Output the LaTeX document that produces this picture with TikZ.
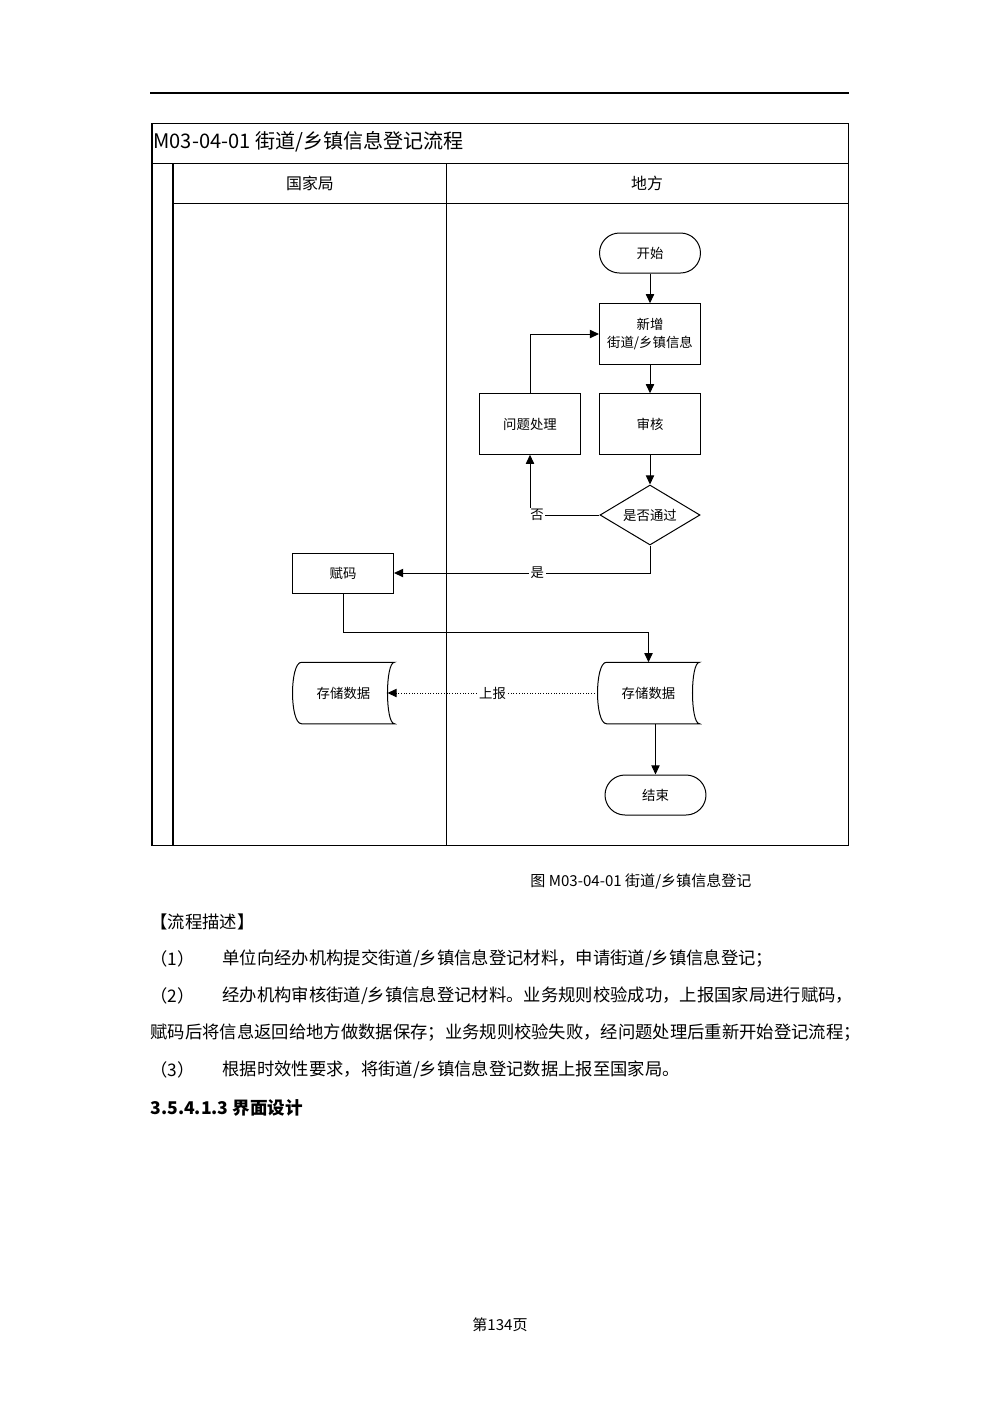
\documentclass[tikz,border=0pt]{standalone}
\usepackage{fontspec}
\setmainfont{Noto Sans CJK SC}
\usetikzlibrary{shapes.geometric,arrows.meta}
\tikzset{
  box/.style={draw,rectangle,minimum width=2.12cm,minimum height=1.27cm,
    inner sep=1pt,align=center,font=\fontsize{8}{10.5}\selectfont},
  term/.style={box,minimum height=0.84cm,rounded corners=0.42cm},
  decide/.style={draw,diamond,aspect=1.67,minimum width=2.1cm,
    minimum height=1.26cm,inner sep=0pt,font=\fontsize{8}{10}\selectfont},
  store/.style={rectangle,minimum width=2.12cm,minimum height=1.27cm,
    inner sep=0pt,font=\fontsize{8}{10}\selectfont},
  arr/.style={-{Triangle[length=5.5pt,width=5pt]}},
  lbl/.style={fill=white,inner sep=1pt,font=\fontsize{8}{10}\selectfont},
  lane/.style={font=\fontsize{9.5}{11}\selectfont},
  body/.style={anchor=west,inner sep=0pt,font=\fontsize{10.35}{12}\selectfont},
}
% stored data outline round a store node
\newcommand\storeshape[1]{%
  \draw ([xshift=0.19cm]#1.north west) -- (#1.north east)
    .. controls ([xshift=-0.196cm]#1.north east) and ([xshift=-0.196cm]#1.south east) .. (#1.south east)
    -- ([xshift=0.19cm]#1.south west)
    .. controls ([xshift=-0.063cm]#1.south west) and ([xshift=-0.063cm]#1.north west) .. cycle;}
\begin{document}
\begin{tikzpicture}[x=0.021cm,y=-0.021cm,line width=0.6pt]
  \useasboundingbox (0,0) rectangle (1000,1415);
  \draw[line width=1.2pt] (150,93) -- (849,93);
  % swimlane table
  \draw (152,123) rectangle (848,845);
  \draw (152,163) -- (848,163);
  \draw (173,203) -- (848,203);
  \draw (173,163) -- (173,845);
  \draw (446,163) -- (446,845);
  \node[anchor=west,inner sep=0pt,font=\fontsize{12}{14}\selectfont] (title) at (153,142)
    {M03-04-01 街道/乡镇信息登记流程};
  \node[lane] (gjj) at (310,183) {国家局};
  \node[lane] (df) at (647,183) {地方};

  % flow nodes
  \node[term] (start) at (650,253) {开始};
  \node[box] (add) at (650,334) {新增\\街道/乡镇信息};
  \node[box] (check) at (650,424) {审核};
  \node[box] (fix) at (530,424) {问题处理};
  \node[decide] (pass) at (650,515) {是否通过};
  \node[box,minimum height=0.84cm] (code) at (343,573) {赋码};
  \node[store] (sd) at (648.5,693) {存储数据};
  \node[store] (sg) at (343.5,693) {存储数据};
  \node[term] (end) at (655.5,795) {结束};
  \storeshape{sd}
  \storeshape{sg}

  % connectors
  \draw[arr] (start) -- (add);
  \draw[arr] (add) -- (check);
  \draw[arr] (check) -- (pass);
  \draw[arr] (pass.west) -| node[lbl,pos=0.45] {否} (fix.south);
  \draw[arr] (fix.north) |- (add.west);
  \draw[arr] (pass.south) |- node[lbl,pos=0.72] {是} (code.east);
  \draw[arr] (code.south) -- ++(0,39) -| (sd.north);
  \draw[arr,densely dotted] (sd.west) -- node[lbl] {上报} ([xshift=-0.147cm]sg.east);
  \draw[arr] (sd.south -| end.north) -- (end.north);

  % text below the chart
  \node[inner sep=0pt,font=\fontsize{9}{11}\selectfont] (cap) at (641,881)
    {图 M03-04-01 街道/乡镇信息登记};
  \node[body] (head) at (150,922) {【流程描述】};
  \node[body] (n1) at (150,959) {（1）};
  \node[body] (t1) at (222,959) {单位向经办机构提交街道/乡镇信息登记材料，申请街道/乡镇信息登记；};
  \node[body] (n2) at (150,996) {（2）};
  \node[body] (t2) at (222,996) {经办机构审核街道/乡镇信息登记材料。业务规则校验成功，上报国家局进行赋码，};
  \node[body] (t2b) at (150,1033) {赋码后将信息返回给地方做数据保存；业务规则校验失败，经问题处理后重新开始登记流程；};
  \node[body] (n3) at (150,1070) {（3）};
  \node[body] (t3) at (222,1070) {根据时效性要求，将街道/乡镇信息登记数据上报至国家局。};
  \node[body,font=\fontsize{10.5}{12}\selectfont\bfseries] (sec) at (150,1108) {3.5.4.1.3 界面设计};
  \node[font=\fontsize{9}{11}\selectfont] (page) at (500,1325) {第134页};
\end{tikzpicture}
\end{document}
